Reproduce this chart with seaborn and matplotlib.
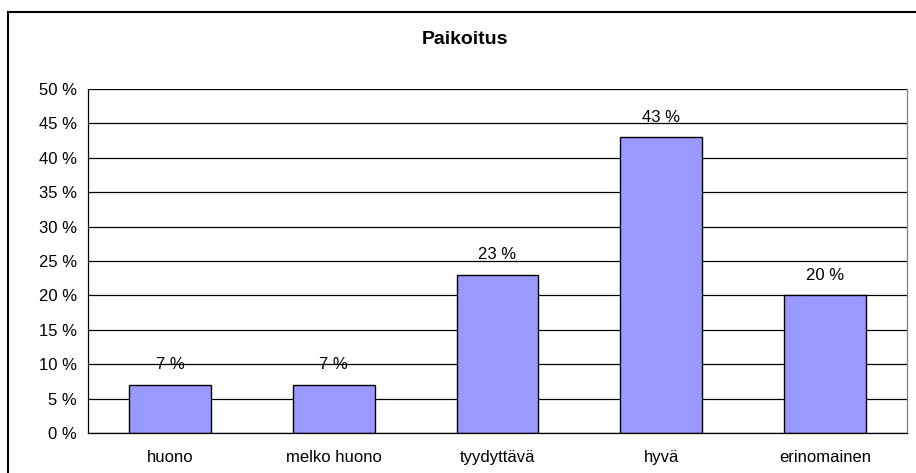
import matplotlib
matplotlib.use("Agg")
import matplotlib.pyplot as plt
import seaborn as sns
import pandas as pd
from matplotlib.patches import Rectangle
from matplotlib.ticker import FuncFormatter, FixedLocator

categories = ["huono", "melko huono", "tyydyttävä", "hyvä", "erinomainen"]
values = [7, 7, 23, 43, 20]
title = "Paikoitus"

sns.set_style("white")
plt.rcParams['font.family'] = ['Liberation Sans', 'DejaVu Sans']
plt.rcParams['text.color'] = 'black'
plt.rcParams['xtick.color'] = 'black'
plt.rcParams['ytick.color'] = 'black'

W, H = 916, 473
fig = plt.figure(figsize=(W / 100, H / 100), dpi=100)
ax = fig.add_axes([88 / W, (H - 433) / H, (907 - 88) / W, (433 - 89) / H])

df = pd.DataFrame({"cat": categories, "val": values})
sns.barplot(data=df, x="cat", y="val", color="#9999FF", edgecolor="black",
            linewidth=1.0, width=0.5, saturation=1, ax=ax)

ax.set_xlim(-0.5, len(categories) - 0.5)
ax.set_ylim(0, 50)
ax.set_yticks(range(0, 51, 5))
ax.yaxis.set_major_formatter(FuncFormatter(lambda v, p: f"{int(v)} %"))
ax.grid(axis="y", color="black", linewidth=0.9)
ax.set_axisbelow(True)
ax.set_xlabel("")
ax.set_ylabel("")

# category labels without ticks, boundary ticks instead
ax.tick_params(axis="x", which="major", length=0, pad=12, labelsize=12)
ax.xaxis.set_minor_locator(FixedLocator([i + 0.5 for i in range(-1, len(categories))]))
ax.tick_params(axis="x", which="minor", length=5, width=0.9, color="black", direction="out")
ax.tick_params(axis="y", length=5, width=0.9, color="black", direction="out", labelsize=12, pad=3)

for s in ["left", "bottom"]:
    ax.spines[s].set_color("black")
    ax.spines[s].set_linewidth(0.9)
ax.spines["right"].set_color("#808080")
ax.spines["right"].set_linewidth(0.9)
ax.spines["top"].set_visible(False)

for i, v in enumerate(values):
    ax.annotate(f"{v} %", (i, v), xytext=(0, 9), textcoords="offset points",
                ha="center", va="bottom", fontsize=12)

fig.text(465 / W, 1 - 39 / H, title, ha="center", va="center",
         fontsize=14, fontweight="bold")

# outer chart frame (cut at right and bottom)
fig.patches.append(Rectangle((8 / W, -0.1), 1.2, 1.1 - 12 / H, transform=fig.transFigure,
                             fill=False, edgecolor="black", linewidth=1.5))

fig.savefig("out.png", dpi=100)
